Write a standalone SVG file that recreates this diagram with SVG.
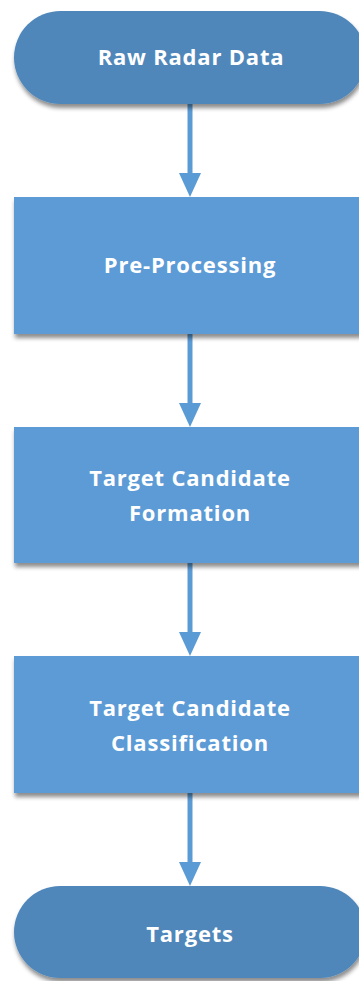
<svg xmlns="http://www.w3.org/2000/svg" width="359" height="981" viewBox="0 0 359 981">
  <defs>
    <filter id="shadow" x="-10%" y="-10%" width="120%" height="130%">
      <feDropShadow dx="1" dy="4" stdDeviation="2" flood-color="#000" flood-opacity="0.45"/>
    </filter>
  </defs>
  <style>
    .term { fill: #4f87ba; filter: url(#shadow); }
    .proc { fill: #5b9bd5; filter: url(#shadow); }
    .label { font-family: "Open Sans", "Liberation Sans", sans-serif; font-weight: 700; font-size: 22px; letter-spacing: 0.8px; fill: #ffffff; text-anchor: middle; }
    .conn { stroke: #5b9bd5; stroke-width: 5; fill: none; }
    .head { fill: #5b9bd5; }
  </style>

  <g id="connectors">
    <line class="conn" x1="190" y1="104" x2="190" y2="174"/>
    <path class="head" d="M179,173 L201,173 L190,197 Z"/>
    <line class="conn" x1="190" y1="334" x2="190" y2="404"/>
    <path class="head" d="M179,403 L201,403 L190,427 Z"/>
    <line class="conn" x1="190" y1="563" x2="190" y2="633"/>
    <path class="head" d="M179,632 L201,632 L190,656 Z"/>
    <line class="conn" x1="190" y1="793" x2="190" y2="863"/>
    <path class="head" d="M179,862 L201,862 L190,886 Z"/>
  </g>

  <g id="raw-radar-data">
    <rect class="term" x="14" y="11" width="352" height="93" rx="46.5" ry="46.5"/>
    <text class="label" x="191" y="65">Raw Radar Data</text>
  </g>

  <g id="pre-processing">
    <rect class="proc" x="14" y="197" width="352" height="137"/>
    <text class="label" x="190" y="273">Pre-Processing</text>
  </g>

  <g id="target-candidate-formation">
    <rect class="proc" x="14" y="427" width="352" height="136"/>
    <text class="label" x="190" y="486">Target Candidate</text>
    <text class="label" x="190" y="521">Formation</text>
  </g>

  <g id="target-candidate-classification">
    <rect class="proc" x="14" y="656" width="352" height="137"/>
    <text class="label" x="190" y="716">Target Candidate</text>
    <text class="label" x="190" y="751">Classification</text>
  </g>

  <g id="targets">
    <rect class="term" x="14" y="886" width="352" height="92" rx="46" ry="46"/>
    <text class="label" x="190" y="942">Targets</text>
  </g>
</svg>
